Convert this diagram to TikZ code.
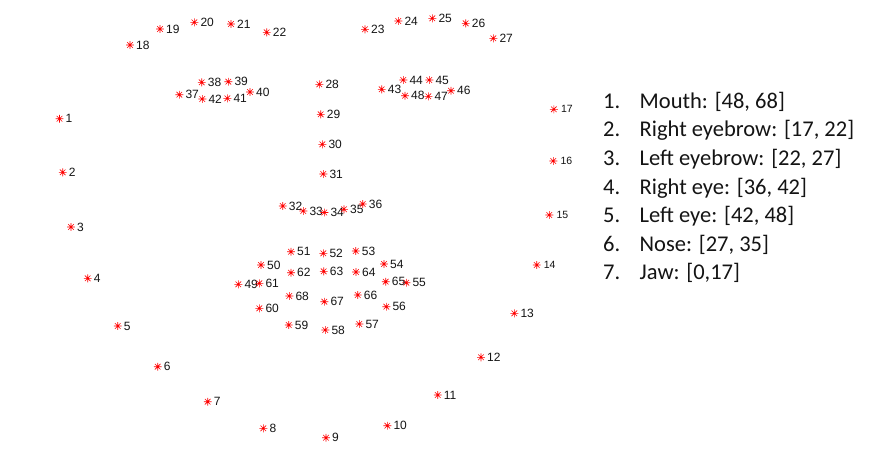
\documentclass[tikz,border=0pt]{standalone}
\usepackage{fontspec}
\setmainfont{Liberation Sans}
\newfontfamily\legendfont{Carlito}
\definecolor{mkred}{RGB}{255,0,0}
\definecolor{txt}{RGB}{20,20,20}
\begin{document}
\begin{tikzpicture}[x=1pt,y=-1pt,
  mk/.style={circle,inner sep=0pt,minimum size=7.5pt},
  mkline/.style={draw=mkred,line width=0.6pt},
  lab/.style={anchor=west,inner sep=0pt,text depth=0pt,text=txt,font=\fontsize{12}{13}\selectfont},
  labs/.style={anchor=west,inner sep=0pt,text depth=0pt,text=txt,font=\fontsize{10.5}{11}\selectfont},
  legnum/.style={anchor=base west,inner sep=0pt,text=txt,font=\legendfont\fontsize{22.5}{24}\selectfont},
  legtxt/.style={anchor=base west,inner sep=0pt,text=txt,font=\legendfont\fontsize{22.5}{24}\selectfont}]
\useasboundingbox[fill=white] (0,0) rectangle (886,458);
\foreach \i/\x/\y in {
 1/59.5/118.7, 2/62.7/172.3, 3/71/227, 4/87.7/278.3, 5/117.7/326,
 6/157.7/366.7, 7/207.7/401.7, 8/263.3/428.3, 9/326/437.7, 10/387.3/425.7,
 11/437.7/395, 12/481/357.3, 13/514.3/313.3, 14/536.7/265, 15/549.3/215,
 16/553.3/161, 17/553.8/109.3, 18/130/45, 19/160/29, 20/194.3/22.3,
 21/231/24, 22/266.7/32.3, 23/365/29.3, 24/398.3/21, 25/432.3/18.3,
 26/465.7/23.3, 27/493.3/38.3, 28/319.3/84.3, 29/320.7/114.3, 30/322.3/144.3,
 31/323.3/174, 32/282.7/206, 33/303.3/211, 34/324.3/212.5, 35/344/209.3,
 36/362.7/204, 37/179.3/94.7, 38/201.7/82.3, 39/228.3/81.7, 40/250/92,
 41/227.3/98.3, 42/202.3/99, 43/381.7/89.3, 44/403.3/80, 45/429.3/80,
 46/451/90.7, 47/428.3/96.3, 48/405/95.7, 49/238.3/284.3, 50/261/265,
 51/291/251.7, 52/323.3/253.3, 53/355.7/251, 54/384/264, 55/406.3/282.7,
 56/386.3/306.7, 57/359.3/324, 58/325.3/330, 59/288.7/325, 60/259.3/308.3,
 61/259.3/283.3, 62/291/272.7, 63/323.7/271.3, 64/356/272, 65/385.7/281.7,
 66/357.7/295, 67/324.3/301.7, 68/289.3/296}{
  \node[mk] (p\i) at (\x,\y) {};
  \draw[mkline] (p\i.0) -- (p\i.180) (p\i.90) -- (p\i.270)
                (p\i.45) -- (p\i.225) (p\i.135) -- (p\i.315);
  \ifnum\i>13 \ifnum\i<18
    \node[labs] (t\i) at (\x+7,\y) {\i};
  \else
    \node[lab] (t\i) at (\x+6,\y) {\i};
  \fi\else
    \node[lab] (t\i) at (\x+6,\y) {\i};
  \fi
}
\foreach \k/\s [count=\j from 0] in {1/{Mouth: [48, 68]}, 2/{Right eyebrow: [17, 22]},
  3/{Left eyebrow: [22, 27]}, 4/{Right eye: [36, 42]}, 5/{Left eye: [42, 48]},
  6/{Nose: [27, 35]}, 7/{Jaw: [0,17]}}{
  \node[legnum] (n\k) at (603,108.3+28.6*\j) {\k.};
  \node[legtxt] (e\k) at (639.5,108.3+28.6*\j) {\s};
}
\end{tikzpicture}
\end{document}
